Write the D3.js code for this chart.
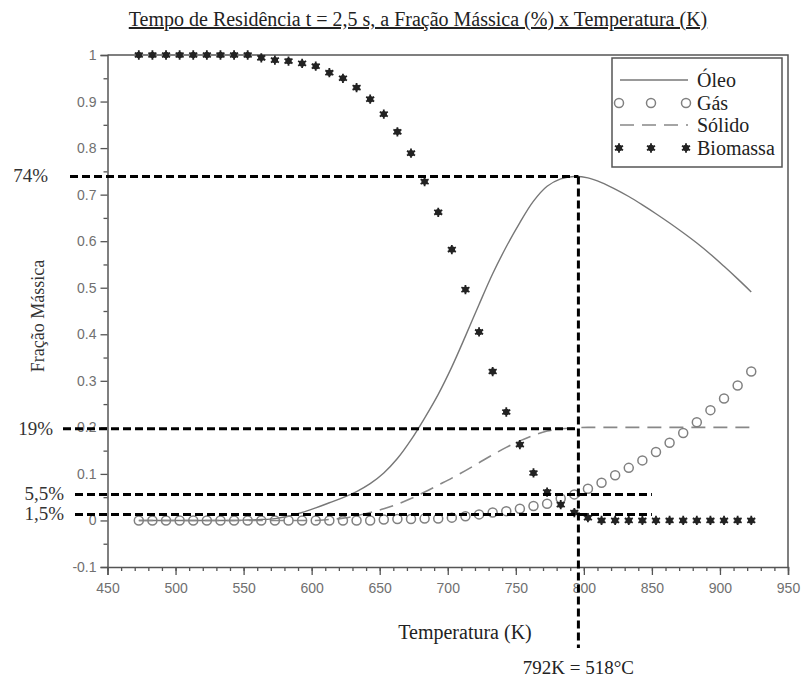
<!DOCTYPE html>
<html>
<head>
<meta charset="utf-8">
<script src="https://cdn.jsdelivr.net/npm/d3@7"></script>
<style>
  body { margin: 0; background: #fff; }
  svg { display: block; }
</style>
</head>
<body>
<div id="chart"></div>
<script>
// temperature (K) of every model point
var temperatura = [473, 483, 493, 503, 513, 523, 533, 543, 553, 563,
  573, 583, 593, 603, 613, 623, 633, 643, 653, 663,
  673, 683, 693, 703, 713, 723, 733, 743, 753, 763,
  773, 783, 793, 803, 813, 823, 833, 843, 853, 863,
  873, 883, 893, 903, 913, 923]

var oleo = [0, 0, 0, 0, 0, 0, 0, 0, 0.001, 0.002,
  0.004, 0.009, 0.017, 0.027, 0.038, 0.049, 0.062, 0.079, 0.102, 0.133,
  0.173, 0.220, 0.271, 0.330, 0.396, 0.464, 0.530, 0.588, 0.640, 0.686,
  0.718, 0.734, 0.739, 0.736, 0.726, 0.712, 0.696, 0.678, 0.659, 0.639,
  0.618, 0.596, 0.572, 0.546, 0.519, 0.491]

var gas = [0, 0, 0, 0, 0, 0, 0, 0, 0, 0,
  0, 0, 0, 0, 0, 0, 0, 0, 0.002, 0.003,
  0.003, 0.004, 0.004, 0.006, 0.009, 0.013, 0.017, 0.020, 0.025, 0.031,
  0.036, 0.047, 0.056, 0.068, 0.081, 0.097, 0.113, 0.129, 0.147, 0.167,
  0.188, 0.211, 0.237, 0.262, 0.290, 0.320]

var solido = [0, 0, 0, 0, 0, 0, 0, 0, 0, 0,
  0, 0, 0, 0, 0.002, 0.005, 0.010, 0.017, 0.025, 0.035,
  0.047, 0.061, 0.076, 0.091, 0.107, 0.124, 0.141, 0.157, 0.171, 0.183,
  0.192, 0.197, 0.199, 0.2, 0.2, 0.2, 0.2, 0.2, 0.2, 0.2,
  0.2, 0.2, 0.2, 0.2, 0.2, 0.2]

var biomassa = [1, 1, 1, 1, 1, 1, 1, 1, 1, 0.994,
  0.989, 0.987, 0.982, 0.976, 0.962, 0.95, 0.93, 0.905, 0.873, 0.835,
  0.789, 0.728, 0.662, 0.582, 0.496, 0.405, 0.32, 0.233, 0.163, 0.102,
  0.061, 0.034, 0.017, 0.006, 0, 0, 0, 0, 0, 0,
  0, 0, 0, 0, 0, 0]

var xTicks = [450, 500, 550, 600, 650, 700, 750, 800, 850, 900, 950]
var yTicks = [-0.1, 0, 0.1, 0.2, 0.3, 0.4, 0.5, 0.6, 0.7, 0.8, 0.9, 1]

// dashed reading lines: value, label, temperature where the line stops
var marcaValor = [0.739, 0.197, 0.056, 0.013]
var marcaTexto = ["74%", "19%", "5,5%", "1,5%"]
var marcaFim = [796, 796, 850, 850]
var picoT = 796
var picoTexto = "792K = 518°C"

var legenda = ["Óleo", "Gás", "Sólido", "Biomassa"]

var width = 802, height = 679
var serif = "'Liberation Serif', 'Times New Roman', serif"
var sans = "'Liberation Sans', Arial, sans-serif"

var svg = d3.select("#chart").append("svg")
  .attr("width", width)
  .attr("height", height)

svg.append("rect").attr("width", width).attr("height", height).attr("fill", "#fff")

var x = d3.scaleLinear().domain([450, 950]).range([107.5, 788])
var y = d3.scaleLinear().domain([-0.1, 1]).range([567, 55])

// title
svg.append("text")
  .attr("x", 418).attr("y", 26)
  .attr("text-anchor", "middle")
  .style("font-family", serif)
  .style("font-size", "20px")
  .style("text-decoration", "underline")
  .attr("fill", "#222")
  .text("Tempo de Residência t = 2,5 s, a Fração Mássica (%) x Temperatura (K)")

// minor ticks
svg.append("g")
  .attr("transform", "translate(0," + y(-0.1) + ")")
  .call(d3.axisBottom(x).tickValues(d3.range(450, 951, 10)).tickSize(4).tickFormat(""))
  .call(function(g) { g.select(".domain").remove() })
svg.append("g")
  .attr("transform", "translate(" + x(450) + ",0)")
  .call(d3.axisLeft(y).tickValues(d3.range(-0.05, 1, 0.1)).tickSize(4).tickFormat(""))
  .call(function(g) { g.select(".domain").remove() })

// major axes
svg.append("g")
  .attr("transform", "translate(0," + y(-0.1) + ")")
  .call(d3.axisBottom(x).tickValues(xTicks).tickSize(8).tickPadding(8).tickFormat(d3.format("d")))
svg.append("g")
  .attr("transform", "translate(" + x(450) + ",0)")
  .call(d3.axisLeft(y).tickValues(yTicks).tickSize(7).tickPadding(4)
    .tickFormat(function(d) { return String(+d.toFixed(1)) }))

svg.selectAll(".tick line").attr("stroke", "#555").attr("stroke-width", 1.3)
svg.selectAll(".domain").attr("stroke", "#555").attr("stroke-width", 1.5)
svg.selectAll(".tick text")
  .style("font-family", sans)
  .style("font-size", "14px")
  .attr("fill", "#707070")

// frame (top and right)
svg.append("path")
  .attr("d", "M" + x(450) + "," + y(1) + "H" + x(950) + "V" + y(-0.1))
  .attr("fill", "none").attr("stroke", "#555").attr("stroke-width", 1.5)

// axis titles
svg.append("text")
  .attr("transform", "translate(44," + 316 + ") rotate(-90)")
  .attr("text-anchor", "middle")
  .style("font-family", serif).style("font-size", "18px")
  .attr("fill", "#333")
  .text("Fração Mássica")

svg.append("text")
  .attr("x", 465).attr("y", 639)
  .attr("text-anchor", "middle")
  .style("font-family", serif).style("font-size", "20px")
  .attr("fill", "#222")
  .text("Temperatura (K)")

var pontos = temperatura.map(function(t, i) {
  return { t: t, oleo: oleo[i], gas: gas[i], solido: solido[i], biomassa: biomassa[i] }
})

var plot = svg.append("g")

// Óleo
plot.append("path")
  .datum(pontos)
  .attr("fill", "none")
  .attr("stroke", "#777")
  .attr("stroke-width", 1.4)
  .attr("d", d3.line().curve(d3.curveCatmullRom)
    .x(function(d) { return x(d.t) })
    .y(function(d) { return y(d.oleo) }))

// Sólido
plot.append("path")
  .datum(pontos)
  .attr("fill", "none")
  .attr("stroke", "#888")
  .attr("stroke-width", 1.6)
  .attr("stroke-dasharray", "14,8")
  .attr("d", d3.line().curve(d3.curveMonotoneX)
    .x(function(d) { return x(d.t) })
    .y(function(d) { return y(d.solido) }))

// Gás
plot.selectAll("circle.gas")
  .data(pontos)
  .enter()
  .append("circle")
  .attr("class", "gas")
  .attr("cx", function(d) { return x(d.t) })
  .attr("cy", function(d) { return y(d.gas) })
  .attr("r", 4.5)
  .attr("fill", "none")
  .attr("stroke", "#808080")
  .attr("stroke-width", 1.5)

// Biomassa
var estrela = d3.symbol().type(d3.symbolAsterisk).size(60)
function marcaBiomassa(g) {
  g.append("path").attr("d", estrela).attr("stroke", "#222").attr("stroke-width", 1.8).attr("fill", "none")
  g.append("circle").attr("r", 3.2).attr("fill", "#222")
}
plot.selectAll("g.bio")
  .data(pontos)
  .enter()
  .append("g")
  .attr("class", "bio")
  .attr("transform", function(d) { return "translate(" + x(d.t) + "," + y(d.biomassa) + ")" })
  .call(marcaBiomassa)

// reading lines
var inicio = [70, 63, 75, 75]
var fimTexto = [48, 53, 64, 64]
var ann = svg.append("g")
marcaValor.forEach(function(v, i) {
  ann.append("line")
    .attr("x1", inicio[i]).attr("x2", x(marcaFim[i]))
    .attr("y1", y(v)).attr("y2", y(v))
    .attr("stroke", "#000").attr("stroke-width", 3)
    .attr("stroke-dasharray", "8,4")
  ann.append("text")
    .attr("x", fimTexto[i]).attr("y", y(v) + 6)
    .attr("text-anchor", "end")
    .style("font-family", serif).style("font-size", "19px")
    .attr("fill", "#333")
    .text(marcaTexto[i])
})
ann.append("line")
  .attr("x1", x(picoT)).attr("x2", x(picoT))
  .attr("y1", y(marcaValor[0])).attr("y2", 648)
  .attr("stroke", "#000").attr("stroke-width", 3)
  .attr("stroke-dasharray", "8,4")
ann.append("text")
  .attr("x", x(picoT)).attr("y", 674)
  .attr("text-anchor", "middle")
  .style("font-family", serif).style("font-size", "19px")
  .attr("fill", "#222")
  .text(picoTexto)

// legend
var leg = svg.append("g")
leg.append("rect")
  .attr("x", 612).attr("y", 58).attr("width", 170).attr("height", 109)
  .attr("fill", "#fff").attr("stroke", "#555").attr("stroke-width", 1.5)
var linhaY = [80, 103, 125, 148]
var simboloX = [619, 651, 686]
legenda.forEach(function(nome, i) {
  var ly = linhaY[i]
  if (i == 0) {
    leg.append("line").attr("x1", 620).attr("x2", 688).attr("y1", ly).attr("y2", ly)
      .attr("stroke", "#777").attr("stroke-width", 1.4)
  } else if (i == 2) {
    leg.append("line").attr("x1", 620).attr("x2", 688).attr("y1", ly).attr("y2", ly)
      .attr("stroke", "#888").attr("stroke-width", 1.6).attr("stroke-dasharray", "14,8")
  } else if (i == 1) {
    simboloX.forEach(function(sx) {
      leg.append("circle").attr("cx", sx).attr("cy", ly).attr("r", 4.5)
        .attr("fill", "none").attr("stroke", "#808080").attr("stroke-width", 1.5)
    })
  } else {
    simboloX.forEach(function(sx) {
      leg.append("g").attr("transform", "translate(" + sx + "," + ly + ")").call(marcaBiomassa)
    })
  }
  leg.append("text")
    .attr("x", 697).attr("y", ly + 7)
    .style("font-family", serif).style("font-size", "20px")
    .attr("fill", "#222")
    .text(nome)
})
</script>
</body>
</html>
